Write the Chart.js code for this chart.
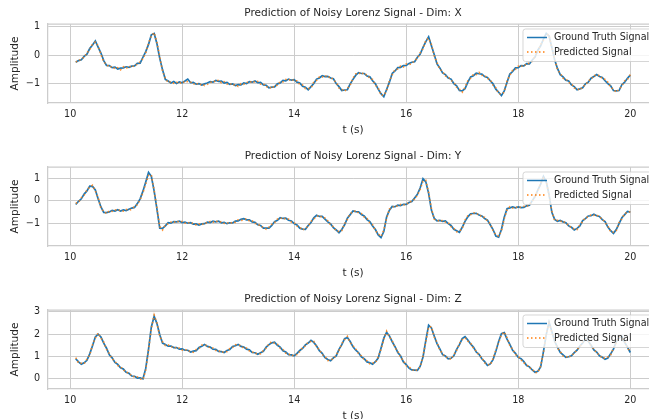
<!DOCTYPE html>
<html><head><meta charset="utf-8">
<script src="https://cdn.jsdelivr.net/npm/chart.js@4.4.0/dist/chart.umd.min.js"></script>
<style>
html,body{margin:0;padding:0;background:#fff;overflow:hidden;width:649px;height:419px;}
.wrap{position:absolute;left:0;width:649px;overflow:hidden;}
canvas{display:block;}
</style></head><body>
<div class="wrap" style="top:0;height:136px"><canvas id="c0" width="658" height="136"></canvas></div>
<div class="wrap" style="top:143px;height:136px"><canvas id="c1" width="658" height="136"></canvas></div>
<div class="wrap" style="top:286px;height:133px"><canvas id="c2" width="658" height="136"></canvas></div>
<script>
// sampling grid of the signal (seconds)
const tStart = 10.1, tStep = 0.05;
const xTicks = [10, 12, 14, 16, 18, 20];
const yTicksXY = [-1, 0, 1];
const yTicksZ = [0, 1, 2, 3];
const seriesNames = ['Ground Truth Signal', 'Predicted Signal'];

const truthX = [
-0.26,-0.20,-0.17,-0.05,0.03,0.23,0.36,0.50,0.28,0.07,
-0.20,-0.37,-0.38,-0.45,-0.43,-0.50,-0.47,-0.46,-0.42,-0.44,
-0.40,-0.39,-0.30,-0.29,-0.08,0.12,0.38,0.72,0.77,0.40,
-0.12,-0.53,-0.87,-0.93,-1.00,-0.95,-1.02,-0.96,-0.99,-0.93,
-0.86,-0.99,-0.98,-1.04,-1.02,-1.07,-1.03,-1.00,-0.95,-0.97,
-0.91,-0.94,-0.93,-1.00,-0.98,-1.05,-1.03,-1.09,-1.06,-1.07,
-1.00,-1.02,-0.95,-0.97,-0.93,-0.99,-0.98,-1.07,-1.08,-1.17,
-1.15,-1.14,-1.03,-1.00,-0.91,-0.92,-0.86,-0.90,-0.88,-0.97,
-1.00,-1.12,-1.15,-1.24,-1.13,-1.02,-0.86,-0.82,-0.74,-0.77,
-0.76,-0.82,-0.85,-1.02,-1.13,-1.27,-1.25,-1.24,-1.03,-0.87,
-0.72,-0.63,-0.66,-0.66,-0.75,-0.78,-0.92,-1.03,-1.22,-1.38,
-1.49,-1.23,-0.97,-0.66,-0.57,-0.45,-0.44,-0.38,-0.37,-0.30,
-0.26,-0.24,-0.08,0.03,0.27,0.48,0.65,0.33,0.02,-0.32,
-0.46,-0.64,-0.70,-0.82,-0.86,-1.02,-1.10,-1.27,-1.28,-1.20,
-0.97,-0.78,-0.74,-0.65,-0.67,-0.68,-0.77,-0.80,-0.92,-1.03,
-1.22,-1.33,-1.45,-1.28,-0.97,-0.68,-0.59,-0.46,-0.45,-0.38,
-0.39,-0.31,-0.32,-0.18,-0.07,0.17,0.33,0.57,0.77,0.68,
0.27,-0.17,-0.48,-0.70,-0.78,-0.90,-0.93,-1.07,-1.13,-1.24,
-1.21,-1.17,-1.03,-0.97,-0.83,-0.77,-0.70,-0.77,-0.80,-0.92,
-1.02,-1.10,-1.27,-1.28,-1.27,-1.06,-0.97,-0.83,-0.72];

const predX = [
-0.24,-0.23,-0.12,-0.09,0.08,0.18,0.40,0.46,0.33,0.02,
-0.25,-0.33,-0.44,-0.40,-0.49,-0.45,-0.53,-0.42,-0.48,-0.39,
-0.45,-0.35,-0.34,-0.24,-0.13,0.07,0.43,0.68,0.80,0.45,
-0.06,-0.58,-0.83,-0.99,-0.95,-1.01,-0.97,-1.03,-0.94,-0.99,
-0.94,-0.96,-1.05,-0.99,-1.08,-1.03,-1.09,-1.05,-0.99,-0.92,
-0.96,-0.89,-0.99,-0.95,-1.04,-1.00,-1.09,-1.05,-1.12,-1.02,
-1.05,-0.97,-1.00,-0.92,-0.98,-0.94,-1.04,-1.02,-1.14,-1.12,
-1.20,-1.09,-1.08,-0.95,-0.96,-0.87,-0.91,-0.85,-0.93,-0.92,
-1.05,-1.07,-1.20,-1.20,-1.18,-0.97,-0.91,-0.78,-0.79,-0.72,
-0.81,-0.77,-0.90,-0.97,-1.18,-1.22,-1.30,-1.19,-1.08,-0.82,
-0.67,-0.68,-0.61,-0.71,-0.70,-0.83,-0.87,-1.08,-1.17,-1.43,
-1.44,-1.28,-0.92,-0.71,-0.52,-0.50,-0.39,-0.43,-0.32,-0.35,
-0.31,-0.19,-0.13,0.08,0.22,0.53,0.60,0.38,-0.03,-0.27,
-0.51,-0.59,-0.75,-0.77,-0.91,-0.97,-1.15,-1.22,-1.33,-1.15,
-0.92,-0.83,-0.69,-0.70,-0.62,-0.73,-0.72,-0.85,-0.87,-1.08,
-1.17,-1.38,-1.40,-1.33,-0.92,-0.73,-0.54,-0.51,-0.40,-0.43,
-0.34,-0.36,-0.27,-0.23,-0.02,0.12,0.38,0.52,0.72,0.73,
0.22,-0.12,-0.53,-0.65,-0.83,-0.85,-0.98,-1.02,-1.18,-1.19,
-1.26,-1.12,-1.08,-0.92,-0.88,-0.72,-0.75,-0.72,-0.85,-0.87,
-0.97,-1.15,-1.22,-1.33,-1.22,-1.11,-0.92,-0.88,-0.70];

const truthY = [
-0.17,-0.03,0.08,0.29,0.43,0.64,0.63,0.47,0.08,-0.28,
-0.52,-0.53,-0.50,-0.43,-0.46,-0.40,-0.46,-0.41,-0.44,-0.38,
-0.33,-0.30,-0.13,0.08,0.42,0.82,1.25,1.08,0.42,-0.38,
-1.22,-1.23,-1.12,-0.98,-1.00,-0.93,-0.94,-0.91,-0.97,-0.95,
-1.00,-0.98,-1.04,-1.03,-1.08,-1.03,-1.02,-0.95,-0.97,-0.91,
-0.94,-0.91,-0.98,-0.96,-1.02,-0.98,-0.99,-0.91,-0.90,-0.83,
-0.80,-0.85,-0.85,-0.94,-0.96,-1.07,-1.10,-1.22,-1.22,-1.22,
-1.10,-0.93,-0.87,-0.76,-0.79,-0.78,-0.87,-0.90,-1.02,-1.08,
-1.22,-1.26,-1.27,-1.10,-0.97,-0.76,-0.65,-0.70,-0.70,-0.82,
-0.94,-1.03,-1.20,-1.30,-1.42,-1.28,-1.07,-0.78,-0.62,-0.46,
-0.49,-0.50,-0.62,-0.68,-0.84,-0.93,-1.12,-1.28,-1.52,-1.64,
-1.37,-0.73,-0.42,-0.26,-0.27,-0.20,-0.22,-0.16,-0.17,-0.08,
-0.04,0.12,0.28,0.57,0.97,0.83,0.32,-0.42,-0.78,-0.90,
-0.88,-0.92,-0.90,-1.02,-1.10,-1.27,-1.33,-1.40,-1.18,-0.92,
-0.72,-0.58,-0.57,-0.56,-0.64,-0.68,-0.79,-0.86,-1.07,-1.28,
-1.57,-1.62,-1.28,-0.73,-0.36,-0.32,-0.28,-0.32,-0.28,-0.31,
-0.30,-0.23,-0.20,0.00,0.18,0.47,0.73,1.07,0.83,0.27,
-0.52,-0.83,-0.92,-0.88,-0.94,-0.98,-1.12,-1.18,-1.30,-1.23,
-1.12,-0.88,-0.80,-0.68,-0.67,-0.60,-0.67,-0.70,-0.84,-0.93,
-1.17,-1.33,-1.45,-1.28,-1.02,-0.76,-0.62,-0.48,-0.51];

const predY = [
-0.12,-0.08,0.13,0.24,0.48,0.59,0.68,0.42,0.14,-0.34,
-0.47,-0.58,-0.45,-0.48,-0.41,-0.45,-0.41,-0.46,-0.39,-0.43,
-0.38,-0.25,-0.18,0.04,0.35,0.74,1.12,1.14,0.46,-0.35,
-1.15,-1.30,-1.07,-1.03,-0.95,-0.98,-0.89,-0.96,-0.92,-1.00,
-0.95,-1.03,-0.99,-1.08,-1.03,-1.08,-0.97,-1.00,-0.92,-0.96,
-0.89,-0.96,-0.93,-1.01,-0.97,-1.03,-0.94,-0.96,-0.85,-0.88,
-0.85,-0.80,-0.90,-0.89,-1.01,-1.02,-1.15,-1.17,-1.27,-1.17,
-1.05,-0.98,-0.82,-0.81,-0.74,-0.83,-0.82,-0.95,-0.97,-1.13,
-1.17,-1.31,-1.22,-1.15,-0.92,-0.81,-0.70,-0.65,-0.75,-0.77,
-0.89,-1.08,-1.15,-1.35,-1.37,-1.33,-1.02,-0.83,-0.57,-0.51,
-0.44,-0.55,-0.57,-0.73,-0.79,-0.98,-1.07,-1.33,-1.47,-1.59,
-1.30,-0.79,-0.37,-0.31,-0.22,-0.25,-0.17,-0.21,-0.12,-0.13,
0.01,0.06,0.25,0.50,0.86,0.90,0.37,-0.35,-0.83,-0.85,
-0.93,-0.87,-0.95,-0.97,-1.15,-1.22,-1.38,-1.35,-1.24,-0.86,
-0.67,-0.63,-0.52,-0.61,-0.59,-0.73,-0.74,-0.91,-1.02,-1.33,
-1.52,-1.57,-1.34,-0.80,-0.41,-0.27,-0.33,-0.27,-0.33,-0.28,
-0.25,-0.28,-0.15,-0.05,0.23,0.42,0.78,1.00,0.88,0.21,
-0.46,-0.88,-0.87,-0.93,-0.89,-1.03,-1.07,-1.23,-1.25,-1.28,
-1.07,-0.93,-0.75,-0.73,-0.62,-0.65,-0.62,-0.75,-0.79,-0.98,
-1.12,-1.38,-1.40,-1.33,-0.97,-0.81,-0.57,-0.53,-0.48];

const truthZ = [
0.90,0.76,0.66,0.72,0.83,1.12,1.48,1.87,2.00,1.87,
1.60,1.37,1.08,0.94,0.74,0.65,0.50,0.44,0.30,0.25,
0.13,0.12,0.04,0.05,0.00,0.47,1.33,2.32,2.80,2.47,
1.97,1.60,1.54,1.46,1.47,1.40,1.40,1.33,1.34,1.28,
1.28,1.20,1.24,1.26,1.40,1.46,1.54,1.45,1.42,1.33,
1.32,1.23,1.22,1.18,1.27,1.31,1.45,1.48,1.54,1.45,
1.42,1.33,1.30,1.18,1.17,1.10,1.17,1.23,1.42,1.53,
1.61,1.64,1.50,1.42,1.26,1.20,1.08,1.07,1.03,1.14,
1.27,1.36,1.52,1.60,1.72,1.63,1.47,1.26,1.14,0.95,
0.87,0.81,0.94,1.03,1.32,1.53,1.80,1.85,1.67,1.43,
1.28,1.17,0.98,0.90,0.76,0.72,0.66,0.77,0.93,1.37,
1.82,2.08,1.92,1.66,1.44,1.18,1.02,0.76,0.64,0.48,
0.40,0.39,0.38,0.57,0.98,1.72,2.40,2.28,1.92,1.58,
1.34,1.08,1.02,0.90,0.92,1.03,1.32,1.53,1.80,1.89,
1.74,1.56,1.42,1.20,1.10,0.90,0.77,0.60,0.67,0.86,
1.23,1.67,2.02,2.07,1.78,1.54,1.28,1.14,0.96,0.90,
0.77,0.60,0.54,0.40,0.30,0.34,0.53,1.22,1.98,2.54,
2.12,1.68,1.42,1.18,1.07,0.96,0.99,1.03,1.17,1.28,
1.47,1.60,1.80,1.68,1.50,1.30,1.20,1.03,0.97,0.88,
0.93,1.12,1.33,1.67,1.83,1.90,1.63,1.42,1.18];

const predZ = [
0.95,0.71,0.70,0.67,0.88,1.07,1.53,1.82,2.05,1.82,
1.65,1.32,1.13,0.89,0.79,0.60,0.55,0.39,0.35,0.20,
0.18,0.07,0.09,0.00,-0.03,0.40,1.30,2.25,2.85,2.50,
1.90,1.66,1.49,1.52,1.42,1.45,1.35,1.38,1.29,1.33,
1.23,1.25,1.19,1.31,1.35,1.51,1.49,1.50,1.37,1.38,
1.27,1.28,1.17,1.23,1.22,1.36,1.40,1.53,1.49,1.50,
1.37,1.38,1.25,1.23,1.12,1.15,1.12,1.28,1.37,1.58,
1.66,1.59,1.55,1.37,1.31,1.15,1.13,1.02,1.08,1.09,
1.22,1.41,1.47,1.65,1.67,1.68,1.42,1.31,1.09,1.00,
0.82,0.86,0.89,1.08,1.27,1.58,1.75,1.90,1.62,1.48,
1.33,1.12,1.03,0.85,0.81,0.67,0.71,0.72,0.98,1.32,
1.77,2.13,1.87,1.71,1.39,1.23,0.97,0.81,0.59,0.53,
0.45,0.34,0.43,0.52,1.03,1.66,2.32,2.33,1.87,1.63,
1.29,1.13,0.97,0.95,0.87,1.08,1.27,1.58,1.75,1.84,
1.69,1.61,1.37,1.25,1.05,0.95,0.72,0.65,0.62,0.91,
1.28,1.62,1.97,2.10,1.83,1.49,1.33,1.09,1.01,0.85,
0.72,0.65,0.49,0.45,0.27,0.29,0.58,1.17,2.03,2.48,
2.07,1.73,1.37,1.23,1.02,1.01,0.94,1.08,1.12,1.33,
1.42,1.65,1.75,1.73,1.45,1.35,1.15,1.08,0.92,0.93,
0.98,1.07,1.38,1.62,1.88,1.85,1.68,1.37,1.22];

const FONT = "'DejaVu Sans', sans-serif";
const TXT = '#262626';
const GRID = '#cccccc';

const framePlugin = {
  id: 'frame',
  beforeDatasetsDraw(chart) {
    const {ctx, chartArea: a} = chart;
    ctx.save();
    ctx.strokeStyle = GRID; ctx.lineWidth = 1.25;
    ctx.beginPath();
    ctx.moveTo(a.left, a.top); ctx.lineTo(a.right, a.top);
    ctx.moveTo(a.right, a.top); ctx.lineTo(a.right, a.bottom);
    ctx.stroke();
    ctx.restore();
  },
  afterDatasetsDraw(chart) {
    const {ctx, chartArea: a} = chart;
    const ds = chart.data.datasets;
    const left = a.right - 135, top = a.top + 5, w = 132, h = 32.5, r = 2.5;
    ctx.save();
    ctx.beginPath();
    ctx.moveTo(left + r, top);
    ctx.lineTo(left + w - r, top); ctx.arcTo(left + w, top, left + w, top + r, r);
    ctx.lineTo(left + w, top + h - r); ctx.arcTo(left + w, top + h, left + w - r, top + h, r);
    ctx.lineTo(left + r, top + h); ctx.arcTo(left, top + h, left, top + h - r, r);
    ctx.lineTo(left, top + r); ctx.arcTo(left, top, left + r, top, r);
    ctx.closePath();
    ctx.fillStyle = 'rgba(255,255,255,0.8)';
    ctx.fill();
    ctx.strokeStyle = 'rgba(204,204,204,0.8)'; ctx.lineWidth = 1;
    ctx.stroke();
    const rows = [top + 8.5, top + 23];
    const legendColors = ['#1f77b4', '#ff7f0e'];
    ds.forEach((d, i) => {
      const y = rows[i];
      ctx.beginPath();
      ctx.setLineDash(i === 1 ? [1.5, 2.5] : []);
      ctx.strokeStyle = legendColors[i]; ctx.lineWidth = 1.5;
      ctx.moveTo(left + 4, y); ctx.lineTo(left + 24, y);
      ctx.stroke();
      ctx.setLineDash([]);
      ctx.fillStyle = TXT;
      ctx.font = '9.6px ' + FONT;
      ctx.textBaseline = 'middle'; ctx.textAlign = 'left';
      ctx.fillText(d.label, left + 31, y);
    });
    ctx.restore();
  }
};

function makeChart(id, dim, truth, pred, yMin, yMax, yTicks) {
  const times = truth.map((_, i) => +(tStart + i * tStep).toFixed(2));
  return new Chart(document.getElementById(id), {
    type: 'line',
    data: {
      datasets: [
        { label: seriesNames[0], data: times.map((t, i) => ({x: t, y: truth[i]})),
          borderColor: '#1f77b4', borderWidth: 1.7, pointRadius: 0, tension: 0, order: 1 },
        { label: seriesNames[1], data: times.map((t, i) => ({x: t, y: pred[i]})),
          borderColor: 'rgba(255,127,14,0.85)', borderWidth: 1.6, borderDash: [1.5, 2.5], pointRadius: 0, tension: 0, order: 0 }
      ]
    },
    options: {
      responsive: false, animation: false, devicePixelRatio: 1,
      layout: { padding: 0 },
      plugins: {
        legend: { display: false }, tooltip: { enabled: false },
        title: { display: true, text: 'Prediction of Noisy Lorenz Signal - Dim: ' + dim, fullSize: false,
          color: TXT, font: { family: FONT, size: 10.5, weight: 'normal' }, padding: { top: 7, bottom: 4.4 } }
      },
      scales: {
        x: {
          type: 'linear', min: 9.605, max: 20.495,
          afterFit(s) { s.height = 33; },
          afterBuildTicks(s) { s.ticks = xTicks.map(v => ({value: v})); },
          ticks: { font: { family: FONT, size: 9.6 }, color: TXT, padding: 6, autoSkip: false, maxRotation: 0 },
          grid: { color: GRID, lineWidth: 1, drawTicks: false },
          border: { color: GRID, width: 1.25 },
          title: { display: true, text: 't (s)', color: TXT, font: { family: FONT, size: 10.5 }, padding: { top: 0, bottom: -0.5 } }
        },
        y: {
          min: yMin, max: yMax,
          afterFit(s) { s.width = 48; },
          afterBuildTicks(s) { s.ticks = yTicks.map(v => ({value: v})); },
          ticks: { font: { family: FONT, size: 9.6 }, color: TXT, padding: 8,
            callback: v => (v < 0 ? '\u2212' + Math.abs(v) : String(v)) },
          grid: { color: GRID, lineWidth: 1, drawTicks: false },
          border: { color: GRID, width: 1.25 },
          title: { display: true, text: 'Amplitude', color: TXT, font: { family: FONT, size: 10.5 }, padding: { top: 8.5, bottom: 0 } }
        }
      }
    },
    plugins: [framePlugin]
  });
}

makeChart('c0', 'X', truthX, predX, -1.714, 1.107, yTicksXY);
makeChart('c1', 'Y', truthY, predY, -2.01, 1.49, yTicksXY);
makeChart('c2', 'Z', truthZ, predZ, -0.45, 3.077, yTicksZ);
</script>
</body></html>
